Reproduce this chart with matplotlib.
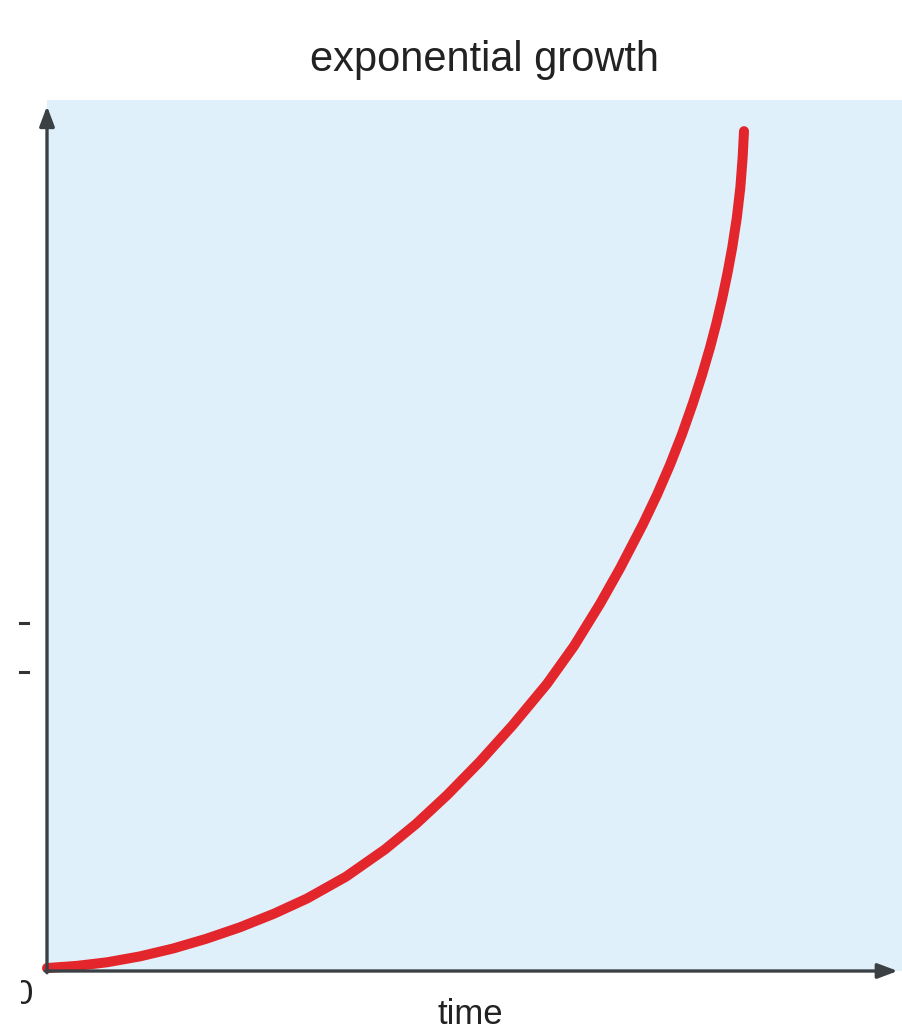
import matplotlib
matplotlib.use("Agg")
import matplotlib.pyplot as plt
from matplotlib.lines import Line2D
from matplotlib.patches import Rectangle

# Data, in pixel-derived units (time, population)
time = [0.000, 0.351, 0.702, 1.088, 1.474, 1.860, 2.257, 2.655, 3.041, 3.497,
        3.953, 4.316, 4.678, 5.064, 5.450, 5.848, 6.164, 6.468, 6.702, 6.971,
        7.135, 7.287, 7.427, 7.556, 7.661, 7.754, 7.830, 7.898, 7.959, 8.014,
        8.068, 8.109, 8.136, 8.152]
population = [0.034, 0.059, 0.100, 0.168, 0.258, 0.369, 0.502, 0.658, 0.832, 1.083,
              1.396, 1.688, 2.018, 2.405, 2.826, 3.297, 3.731, 4.215, 4.623, 5.131,
              5.468, 5.812, 6.163, 6.523, 6.844, 7.156, 7.440, 7.726, 8.013, 8.304,
              8.648, 8.993, 9.336, 9.642]

title = "exponential growth"
xlabel = "time"
origin_label = "0"

plt.rcParams['font.family'] = ['Liberation Sans', 'DejaVu Sans']

W, H = 902, 1034
fig = plt.figure(figsize=(W / 100, H / 100), dpi=100)
fig.patch.set_facecolor('white')

L, R, T, B = 47, 902, 100, 971
ax = fig.add_axes([L / W, 1 - B / H, (R - L) / W, (B - T) / H])
ax.set_facecolor('#dff0fb')
ax.set_xlim(0, 10)
ax.set_ylim(0, 10)
for s in ax.spines.values():
    s.set_visible(False)
ax.set_xticks([])
ax.set_yticks([])

ax.plot(time, population, color='#e3262b', lw=7.2, solid_capstyle='round',
        solid_joinstyle='round', zorder=3, clip_on=False)

axis_col = '#3b4045'
ax.annotate('', xy=(0.995, 0), xytext=(-0.002, 0), xycoords='axes fraction',
            arrowprops=dict(arrowstyle='-|>,head_length=1.2,head_width=0.45',
                            lw=2.4, color=axis_col, shrinkA=0, shrinkB=0),
            annotation_clip=False, zorder=4)
ax.annotate('', xy=(0, 0.993), xytext=(0, -0.002), xycoords='axes fraction',
            arrowprops=dict(arrowstyle='-|>,head_length=1.2,head_width=0.45',
                            lw=2.4, color=axis_col, shrinkA=0, shrinkB=0),
            annotation_clip=False, zorder=4)

fig.text(485 / W, 1 - 60 / H, title, ha='center', va='center',
         fontsize=30, color='#222222')
fig.text(470 / W, 1 - 1015 / H, xlabel, ha='center', va='center',
         fontsize=25, color='#222222')
fig.text(23 / W, 1 - 995 / H, origin_label, ha='center', va='center',
         fontsize=25, color='#222222')
# the reference crops the left half of the origin label
fig.add_artist(Rectangle((0, 1 - 1020 / H), 21 / W, 50 / H,
                         transform=fig.transFigure, facecolor='white',
                         edgecolor='none', zorder=10))

# small remnant marks at the left edge
for yy in (623, 672):
    fig.add_artist(Line2D([20 / W, 28 / W], [1 - yy / H, 1 - yy / H],
                          color='#333333', lw=2.2))

fig.savefig('out.png', dpi=100, facecolor='white')
